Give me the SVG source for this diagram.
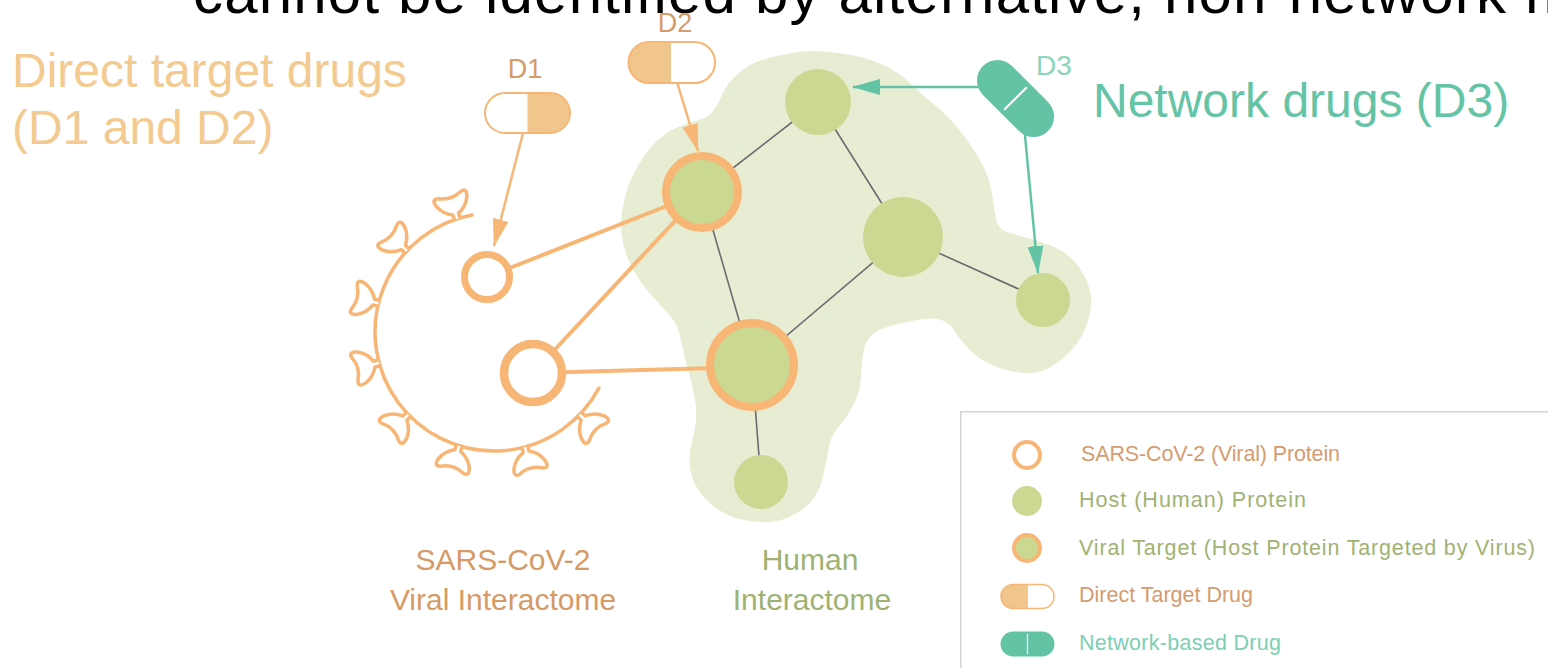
<svg xmlns="http://www.w3.org/2000/svg" xmlns:xlink="http://www.w3.org/1999/xlink" width="1548" height="668" viewBox="0 0 1548 668">
  <style>
    .t { font-family: "Liberation Sans", Arial, sans-serif; }
    .edge { stroke: #716972; stroke-width: 1.6; fill: none; }
    .vedge { stroke: #F7B675; stroke-width: 4; fill: none; }
    .oarrow { stroke: #F7B675; stroke-width: 2.5; fill: none; }
    .tarrow { stroke: #63C3A5; stroke-width: 2.5; fill: none; }
    .host { fill: #CAD891; }
    .target { fill: #CAD891; stroke: #F7B675; stroke-width: 8; }
    .viral { fill: #FFFFFF; stroke: #F7B675; }
    .virus { fill: #FFFFFF; stroke: #F7B675; stroke-width: 3.5; stroke-linejoin: round; stroke-linecap: round; }
    .pillo { stroke: #F7B675; stroke-width: 2; }
    .legtxt { font-size: 21.5px; }
  </style>
  <defs>
    <marker id="headO" markerUnits="userSpaceOnUse" markerWidth="28" markerHeight="16" viewBox="0 0 28 16" refX="27" refY="8" orient="auto">
      <path d="M0,0 L28,8 L0,16 z" fill="#F7B675"/>
    </marker>
    <marker id="headT" markerUnits="userSpaceOnUse" markerWidth="28" markerHeight="16" viewBox="0 0 28 16" refX="27" refY="8" orient="auto">
      <path d="M0,0 L28,8 L0,16 z" fill="#63C3A5"/>
    </marker>
    <!-- one spike of the viral envelope, pointing along +x from the origin -->
    <path id="spike" d="M119,-3 L124,-3 Q128,-12 137,-16 Q146,-19 144,-12 Q138,0 144,12 Q146,19 137,16 Q128,12 124,3 L119,3"/>
  </defs>

  <!-- heading line, clipped by the top edge -->
  <text class="t" x="193" y="13" font-size="60" fill="#000" textLength="1382" lengthAdjust="spacing">cannot be identified by alternative, non-network m</text>

  <!-- human interactome background -->
  <path id="interactome-area" fill="#E7EDD3" d="M768.5,58 Q787,53 802,51.5 Q817,50 842,53.5 Q867,57 883.5,65 Q900,73 910,83 Q920,93 933.5,104 Q947,115 959,129.5 Q971,144 980.5,161 Q990,178 992.5,197 Q995,217 997.5,223.5 Q1000,230 1008.5,232.5 Q1017,235 1042,242.5 Q1067,250 1078.5,266.5 Q1090,283 1091,296.5 Q1092,310 1086,326.5 Q1080,343 1065,356.5 Q1050,370 1036.5,372.5 Q1023,375 1003,369 Q983,363 971.5,351.5 Q960,340 955,331.5 Q950,323 941.5,320 Q933,317 916.5,320 Q900,323 888.5,326.5 Q877,330 871,336 Q865,342 863.5,351 Q862,360 861,376.5 Q860,393 852.5,406.5 Q845,420 837.5,428.5 Q830,437 828.5,448.5 Q827,460 822,480 Q817,500 802,510 Q787,520 773.5,521.5 Q760,523 743.5,520 Q727,517 712,505 Q697,493 692,476.5 Q687,460 692,441.5 Q697,423 696,409 Q695,395 689.5,375 Q684,355 681,340 Q678,325 671.5,317.5 Q665,310 652.5,296.5 Q640,283 631.5,266.5 Q623,250 621.5,233.5 Q620,217 625,197 Q630,177 643.5,157 Q657,137 672,130 Q687,123 697,120.5 Q707,118 712,112.5 Q717,107 722,95 Q727,83 738.5,73 Q750,63 768.5,58 Z"/>

  <!-- connectors -->
  <g id="connectors">
    <line class="edge" x1="818" y1="102" x2="702" y2="192"/>
    <line class="edge" x1="818" y1="102" x2="903" y2="237"/>
    <line class="edge" x1="702" y1="192" x2="752" y2="365"/>
    <line class="edge" x1="903" y1="237" x2="752" y2="365"/>
    <line class="edge" x1="903" y1="237" x2="1043" y2="300"/>
    <line class="edge" x1="752" y1="365" x2="761" y2="482"/>
    <line class="vedge" x1="487" y1="277" x2="702" y2="192"/>
    <line class="vedge" x1="533" y1="373" x2="702" y2="192"/>
    <line class="vedge" x1="533" y1="373" x2="752" y2="367"/>
    <line class="oarrow" x1="523" y1="133" x2="494" y2="246" marker-end="url(#headO)"/>
    <line class="oarrow" x1="677" y1="82" x2="698" y2="151" marker-end="url(#headO)"/>
    <line class="tarrow" x1="990" y1="87" x2="853" y2="87" marker-end="url(#headT)"/>
    <line class="tarrow" x1="1024" y1="125" x2="1038" y2="273" marker-end="url(#headT)"/>
  </g>

  <!-- SARS-CoV-2 particle outline -->
  <g id="virus-envelope" class="virus">
    <path fill="none" d="M472.1,215 A119,119 0 1,0 598.9,388.2"/>
    <use xlink:href="#spike" transform="translate(494 332) rotate(252)"/>
    <use xlink:href="#spike" transform="translate(494 332) rotate(223)"/>
    <use xlink:href="#spike" transform="translate(494 332) rotate(194)"/>
    <use xlink:href="#spike" transform="translate(494 332) rotate(165)"/>
    <use xlink:href="#spike" transform="translate(494 332) rotate(136)"/>
    <use xlink:href="#spike" transform="translate(494 332) rotate(107)"/>
    <use xlink:href="#spike" transform="translate(494 332) rotate(75)"/>
    <use xlink:href="#spike" transform="translate(494 332) rotate(44)"/>
  </g>

  <!-- viral proteins -->
  <g id="viral-protein-1"><circle class="viral" cx="487" cy="277" r="22.5" stroke-width="7"/></g>
  <g id="viral-protein-2"><circle class="viral" cx="533" cy="373" r="29" stroke-width="8.5"/></g>

  <!-- host proteins -->
  <g id="host-top"><circle class="host" cx="818" cy="102" r="33"/></g>
  <g id="host-right"><circle class="host" cx="903" cy="237" r="40"/></g>
  <g id="host-far-right"><circle class="host" cx="1043" cy="300" r="27"/></g>
  <g id="host-bottom"><circle class="host" cx="761" cy="482" r="27"/></g>
  <g id="viral-target-1"><circle class="target" cx="702" cy="192" r="36"/></g>
  <g id="viral-target-2"><circle class="target" cx="752" cy="365" r="42"/></g>

  <!-- drugs -->
  <g id="drug-d1">
    <path d="M527.5,93 H505 A20,20 0 0 0 505,133 H527.5 Z" fill="#FFFFFF"/>
    <path d="M527.5,93 H550 A20,20 0 0 1 550,133 H527.5 Z" fill="#F0C68C"/>
    <rect class="pillo" x="485" y="93" width="85" height="40" rx="20" fill="none"/>
    <text class="t" x="525" y="78" font-size="27" fill="#D49C68" text-anchor="middle">D1</text>
  </g>
  <g id="drug-d2">
    <path d="M671,42 H649 A20.5,20.5 0 0 0 649,83 H671 Z" fill="#F0C68C"/>
    <path d="M671,42 H694 A20.5,20.5 0 0 1 694,83 H671 Z" fill="#FFFFFF"/>
    <rect class="pillo" x="628.5" y="42" width="86.5" height="41" rx="20.5" fill="none"/>
    <text class="t" x="675" y="32" font-size="27" fill="#D49C68" text-anchor="middle">D2</text>
  </g>
  <g id="drug-d3">
    <g transform="translate(1015.5 98.5) rotate(45)">
      <rect x="-46" y="-20.5" width="92" height="41" rx="20.5" fill="#63C3A5"/>
      <line x1="0" y1="-16" x2="0" y2="16" stroke="#FFFFFF" stroke-width="2"/>
    </g>
    <text class="t" x="1036" y="75" font-size="28" fill="#8BD5BC">D3</text>
  </g>

  <!-- group labels -->
  <g id="label-direct">
    <text class="t" x="12" y="87" font-size="48" fill="#F3CA90">Direct target drugs</text>
    <text class="t" x="12" y="144" font-size="48" fill="#F3CA90">(D1 and D2)</text>
  </g>
  <g id="label-network">
    <text class="t" x="1093" y="117" font-size="48" fill="#64C4A5">Network drugs (D3)</text>
  </g>
  <g id="label-viral-interactome">
    <text class="t" x="503" y="570" font-size="30" fill="#D69A66" text-anchor="middle">SARS-CoV-2</text>
    <text class="t" x="503" y="610" font-size="30" fill="#D69A66" text-anchor="middle">Viral Interactome</text>
  </g>
  <g id="label-human-interactome">
    <text class="t" x="810" y="570" font-size="30" fill="#9FB273" text-anchor="middle">Human</text>
    <text class="t" x="812" y="610" font-size="30" fill="#9FB273" text-anchor="middle">Interactome</text>
  </g>

  <!-- legend -->
  <g id="legend">
    <rect x="960.75" y="411.75" width="620" height="300" fill="#FFFFFF" stroke="#D3D3D3" stroke-width="1.5"/>
    <circle cx="1027" cy="455" r="13" fill="#FFFFFF" stroke="#F7B675" stroke-width="4"/>
    <text class="t legtxt" x="1081" y="461" fill="#D49C70" textLength="259">SARS-CoV-2 (Viral) Protein</text>
    <circle cx="1027" cy="501" r="15" fill="#CAD891"/>
    <text class="t legtxt" x="1079" y="507" fill="#9FB273" textLength="227">Host (Human) Protein</text>
    <circle cx="1027" cy="548" r="13" fill="#CAD891" stroke="#F7B675" stroke-width="4"/>
    <text class="t legtxt" x="1079" y="555" fill="#9FB273" textLength="456">Viral Target (Host Protein Targeted by Virus)</text>
    <path d="M1028,584.5 H1013 A12,12 0 0 0 1013,608.5 H1028 Z" fill="#F0C68C"/>
    <rect x="1001" y="584.5" width="53" height="24" rx="12" fill="none" stroke="#F7B675" stroke-width="1.5"/>
    <text class="t legtxt" x="1079" y="602" fill="#D49C70" textLength="174">Direct Target Drug</text>
    <rect x="1000.5" y="631.5" width="54" height="25" rx="12.5" fill="#63C3A5"/>
    <line x1="1027.5" y1="634" x2="1027.5" y2="654" stroke="#FFFFFF" stroke-width="1.2"/>
    <text class="t legtxt" x="1079" y="650" fill="#7DCFB4" textLength="202">Network-based Drug</text>
  </g>
</svg>
